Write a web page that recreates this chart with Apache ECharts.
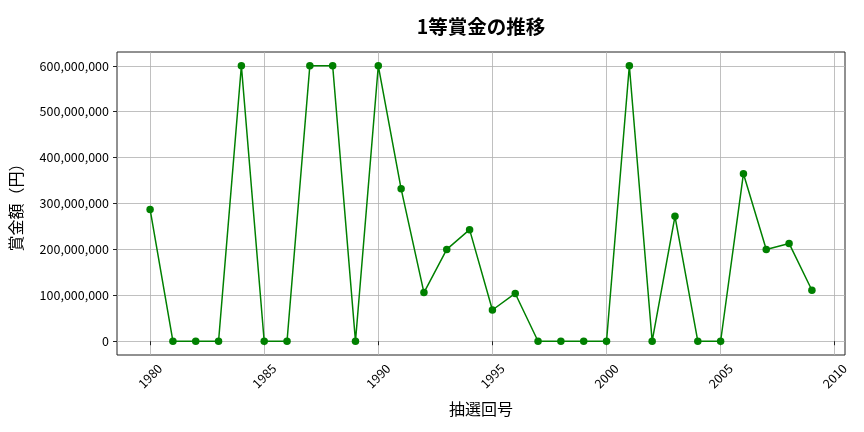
<!DOCTYPE html>
<html><head><meta charset="utf-8">
<script src="https://cdn.jsdelivr.net/npm/echarts@6/dist/echarts.min.js"></script>
<style>html,body{margin:0;padding:0;background:#fff}#c{width:864px;height:432px}</style>
</head><body><div id="c"></div>
<script>
const years = [1980,1981,1982,1983,1984,1985,1986,1987,1988,1989,1990,1991,1992,1993,1994,1995,1996,1997,1998,1999,2000,2001,2002,2003,2004,2005,2006,2007,2008,2009];
const prizes = [287000000,0,0,0,600000000,0,0,600000000,600000000,0,600000000,332000000,106000000,200000000,243000000,68000000,104000000,0,0,0,0,600000000,0,272000000,0,0,365000000,200000000,213000000,111000000];
const xTicks = [1980,1985,1990,1995,2000,2005,2010];
const yTicks = [0,100000000,200000000,300000000,400000000,500000000,600000000];
const font = '"Noto Sans CJK JP", "Noto Sans", sans-serif';
const chart = echarts.init(document.getElementById('c'), null, {renderer:'canvas'});
chart.setOption({
  animation:false,
  backgroundColor:'#fff',
  title:{text:'1等賞金の推移', left:476, top:12, textAlign:'center',
    textStyle:{fontFamily:font, fontSize:19.5, fontWeight:'bold', color:'#000'}},
  grid:{left:117, right:19, top:52, bottom:77, outerBoundsMode:'none', containLabel:false,
    show:true, borderColor:'#222', borderWidth:1, backgroundColor:'transparent'},
  xAxis:{type:'value', min:1978.55, max:2010.45,
    name:'抽選回号', nameLocation:'middle', nameGap:46,
    nameTextStyle:{fontFamily:font, fontSize:16, color:'#000'},
    axisLine:{show:false},
    axisTick:{show:true, inside:false, length:4, customValues:xTicks, lineStyle:{color:'#222'}},
    axisLabel:{customValues:xTicks, rotate:45, align:'center', verticalAlign:'middle',
      fontFamily:font, fontSize:12.5, color:'#000', margin:21,
      formatter:v=>String(Math.round(v))},
    splitLine:{show:true, lineStyle:{color:'#b0b0b0', width:0.8}}
  },
  yAxis:{type:'value', min:-30000000, max:630000000,
    name:'賞金額（円）', nameLocation:'middle', nameGap:93, nameRotate:90,
    nameTextStyle:{fontFamily:font, fontSize:16, color:'#000'},
    axisLine:{show:false},
    axisTick:{show:true, inside:false, length:4, customValues:yTicks, lineStyle:{color:'#222'}},
    axisLabel:{customValues:yTicks, fontFamily:font, fontSize:12.5, color:'#000', margin:8,
      formatter:v=>Math.round(v).toLocaleString('en-US')},
    splitLine:{show:true, lineStyle:{color:'#b0b0b0', width:0.8}}
  },
  series:[{type:'line', data:years.map((y,i)=>[y,prizes[i]]),
    symbol:'circle', symbolSize:7.5,
    lineStyle:{color:'#008000', width:1.5},
    itemStyle:{color:'#008000'}}]
});
</script></body></html>
